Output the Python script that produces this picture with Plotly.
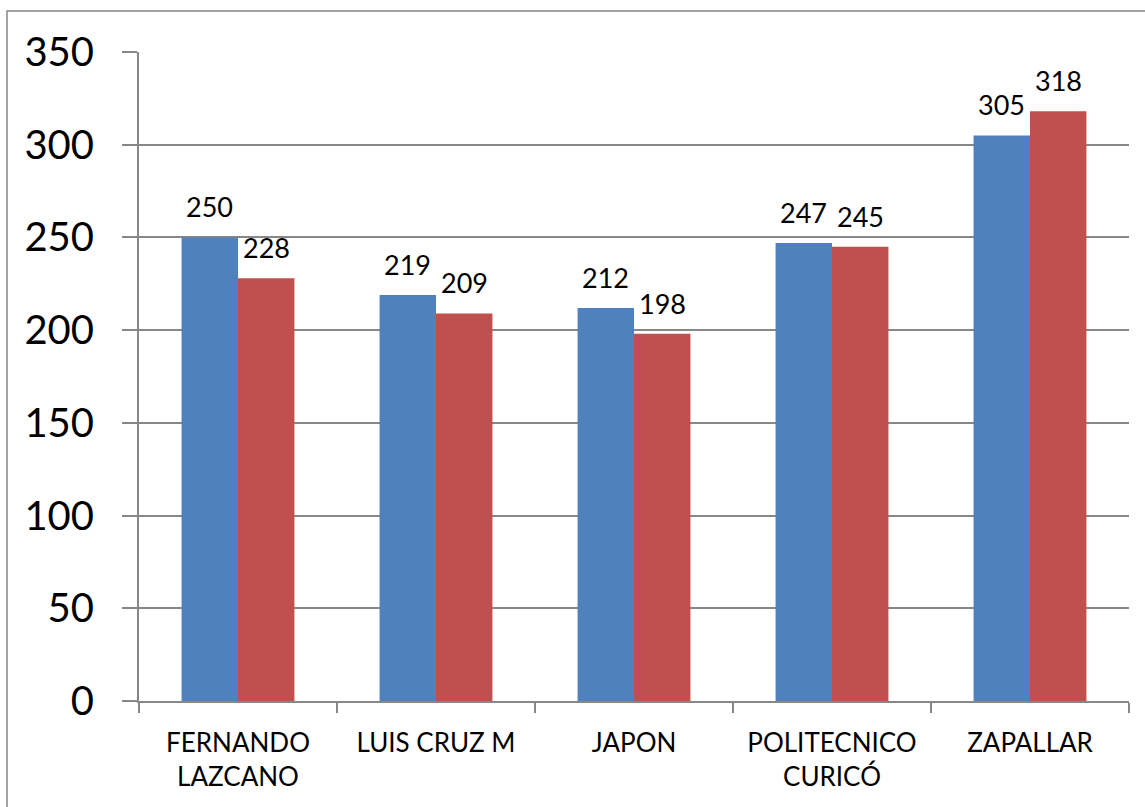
import plotly.graph_objects as go

categories = ["FERNANDO<br>LAZCANO", "LUIS CRUZ M", "JAPON", "POLITECNICO<br>CURICÓ", "ZAPALLAR"]
series_a = [250, 219, 212, 247, 305]
series_b = [228, 209, 198, 245, 318]
y_ticks = [0, 50, 100, 150, 200, 250, 300, 350]

BLUE = "#4F81BD"
RED = "#C0504D"
GRID = "#878787"
FONT = "Lato"

W, H = 1145, 807
L, R, T, B = 139, 16, 52, 106
plot_w = W - L - R
bargap = 0.43
bar_w = plot_w / len(categories) * (1 - bargap) / 2

fig = go.Figure()
fig.add_trace(go.Bar(x=categories, y=series_a, marker=dict(color=BLUE, line=dict(width=0)), name="A"))
fig.add_trace(go.Bar(x=categories, y=series_b, marker=dict(color=RED, line=dict(width=0)), name="B"))

annotations = []
for vals, sign in ((series_a, -1), (series_b, 1)):
    for c, v in zip(categories, vals):
        annotations.append(dict(
            x=c, y=v, text=str(v), showarrow=False, xref="x", yref="y",
            xanchor="center", yanchor="bottom", xshift=sign * bar_w / 2, yshift=12,
            font=dict(family=FONT, size=27, color="black")))

plot_h = H - T - B
fig.update_layout(
    width=W, height=H,
    margin=dict(l=L, r=R, t=T, b=B, pad=0),
    paper_bgcolor="white", plot_bgcolor="white",
    barmode="group", bargap=bargap, bargroupgap=0,
    showlegend=False,
    font=dict(family=FONT, color="black"),
    annotations=annotations,
    shapes=[dict(type="rect", xref="paper", yref="paper",
                 x0=(7 - L) / plot_w, x1=1.2,
                 y0=-0.3, y1=(H - B - 11) / plot_h,
                 line=dict(color=GRID, width=1.5), layer="below")],
)
fig.update_xaxes(
    type="category", tickson="boundaries", ticks="outside", ticklen=10, tickwidth=2, tickcolor=GRID,
    showline=True, linecolor=GRID, linewidth=2, showgrid=False, ticklabelstandoff=18,
    tickfont=dict(family=FONT, size=26, color="black"),
)
fig.update_yaxes(
    range=[0, 350], tickvals=y_ticks, ticks="outside", ticklen=15, tickwidth=2, tickcolor=GRID,
    showline=True, linecolor=GRID, linewidth=2, showgrid=True, gridcolor=GRID, gridwidth=1.5,
    zeroline=False, ticklabelstandoff=20,
    tickfont=dict(family=FONT, size=40, color="black"),
)

fig.write_html("out.html", config={"displayModeBar": False},
               post_script="document.body.style.margin='0';document.body.style.overflow='hidden';")
